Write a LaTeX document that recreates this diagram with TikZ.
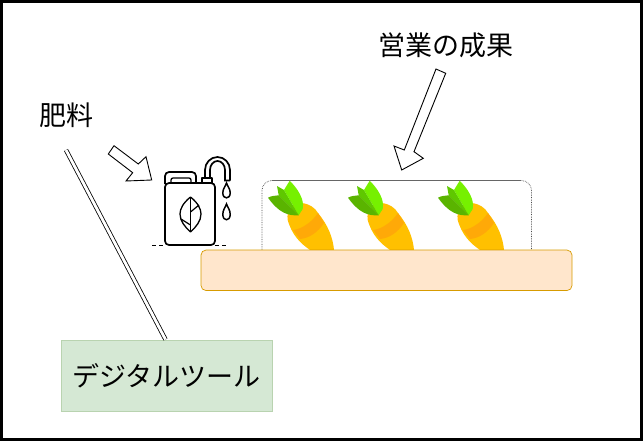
\documentclass[tikz,border=0pt]{standalone}
\usepackage{fontspec}
\setmainfont{Noto Sans CJK JP}
\definecolor{carrotbody}{HTML}{FFC000}
\definecolor{carrotband}{HTML}{FFA908}
\definecolor{leafdark}{HTML}{5AB400}
\definecolor{leafmid}{HTML}{5FC800}
\definecolor{leaflight}{HTML}{76F000}
\definecolor{soilfill}{HTML}{FFE6CC}
\definecolor{soildraw}{HTML}{D79B00}
\definecolor{toolfill}{HTML}{D5E8D4}
\definecolor{tooldraw}{HTML}{B9D3B0}
\tikzset{
  label text/.style={font=\fontsize{27}{30}\selectfont, text=black, inner sep=0pt},
  block arrow/.style={draw=black, fill=white, line width=0.9pt, line join=miter},
  jug/.style={draw=black, line width=1.7pt, fill=white, line join=round},
  carrot/.pic={
    \fill[carrotbody] (42,250) .. controls (32,243) and (24,235) .. (19.7,220)
       .. controls (18,210) and (25,203) .. (33.7,203)
       .. controls (42,204) and (47,208) .. (50,213)
       .. controls (60,225) and (65,238) .. (66,250) -- cycle;
    \fill[carrotband] (25,230) .. controls (34,229) and (44,222) .. (50,213)
       -- (56,223) .. controls (50,232) and (42,238) .. (32,239) -- cycle;
    \fill[leaflight] (16,190) -- (21.7,180.7) .. controls (28,187) and (32,193) .. (34,199)
       .. controls (35,203) and (35.5,206) .. (34.7,209) -- (30.7,215.3) -- cycle;
    \fill[leafmid] (9,186) -- (16,190) -- (30.7,215.3) -- (10.7,195.3) -- cycle;
    \fill[leafdark] (0,197.7) .. controls (3,196) and (7,195.5) .. (10.7,195.3)
       -- (30.7,215.3) .. controls (20,216) and (10.7,212.7) .. (0,197.7) -- cycle;
  }
}
\begin{document}
\begin{tikzpicture}[x=1pt,y=-1pt]
\useasboundingbox (0,0) rectangle (643,442);
\draw[line width=3pt] (1.5,1.5) rectangle (641.5,439.5);

% dotted tray outline
\draw[black!70, line width=0.7pt, densely dotted, rounded corners=10pt]
  (262,250) -- (262,180.5) -- (531.5,180.5) -- (531.5,250);
\draw[black!60, line width=0.6pt] (272,180.5) -- (521,180.5);

% carrots
\pic at (268,0) {carrot};
\pic at (348,0) {carrot};
\pic at (438,0) {carrot};

% soil
\node[draw=soildraw, fill=soilfill, rounded corners=5pt, minimum width=371pt, minimum height=40.5pt, inner sep=0pt, line width=0.7pt] (soil) at (386.5,270.3) {};

% labels
\node[label text] (fert) at (66,115) {肥料};
\node[label text] (result) at (446,45) {営業の成果};
\node[draw=tooldraw, fill=toolfill, minimum width=211pt, minimum height=71pt, inner sep=0pt, line width=0.7pt, label text] (tool) at (166.5,375.5) {デジタルツール};

% double line from the tool box
\coordinate (linetop) at (66,150);
\coordinate (linebot) at (165.5,339.5);
\draw[double, double distance=2.8pt, line width=0.8pt] (linetop) -- (linebot);

% block arrows
\draw[block arrow] (436,69) -- (445.7,73.3) -- (414,151.7) -- (423.3,158.3) -- (401.7,170) -- (394,146) -- (404.3,150) -- cycle;
\draw[block arrow] (114,145.7) -- (108.3,154) -- (132.7,172.7) -- (126,181) -- (151.7,180) -- (146,156.7) -- (138.3,164) -- cycle;

% jug: hook spout
\draw[black, line width=1.7pt] (205,178) -- (205,170) arc[start angle=180, end angle=0, x radius=12.5pt, y radius=13pt] -- (230,180.5);
\draw[black, line width=1.7pt] (210,178) -- (210,170) arc[start angle=180, end angle=0, x radius=7.5pt, y radius=9pt] -- (225,180.5) -- (230,180.5);
\draw[jug] (202,183) -- (202,178) -- (212,178) -- (212,183);
% jug: cap and body
\draw[jug, rounded corners=4pt] (165,184) -- (165,172) -- (196,172) -- (196,184);
\draw[black, line width=1.3pt, rounded corners=2pt] (171,183) -- (171,178) -- (191,178) -- (191,183);
\draw[jug, rounded corners=4pt] (165,183) -- (215,183) -- (215,245) -- (165,245) -- cycle;
% jug: leaf
\draw[black, line width=1.3pt, line join=round] (190.5,197) .. controls (183,203) and (180,209) .. (180,214) .. controls (180,221) and (185,227) .. (190.5,232) .. controls (196,227) and (201,221) .. (201,214) .. controls (201,209) and (198,203) .. (190.5,197) -- cycle;
\draw[black, line width=1.2pt] (190.5,198) -- (190.5,231);
\draw[black, line width=1.2pt] (190.5,212) -- (199,205);
\draw[black, line width=1.2pt] (190.5,225) -- (181,219);
% jug: drops
\draw[black, line width=1.5pt] (226.5,183) .. controls (225,187) and (222.8,189) .. (222.8,193) .. controls (222.8,199.5) and (230.2,199.5) .. (230.2,193) .. controls (230.2,189) and (228,187) .. (226.5,183) -- cycle;
\draw[black, line width=1.5pt] (226.5,204) .. controls (225,208) and (222.8,210) .. (222.8,214.5) .. controls (222.8,221.5) and (230.2,221.5) .. (230.2,214.5) .. controls (230.2,210) and (228,208) .. (226.5,204) -- cycle;
% ground
\draw[black, line width=1.3pt, dash pattern=on 4pt off 3pt] (152,245.5) -- (165,245.5);
\draw[black, line width=1.3pt, dash pattern=on 4pt off 3pt] (215,245.5) -- (227,245.5);
\end{tikzpicture}
\end{document}
